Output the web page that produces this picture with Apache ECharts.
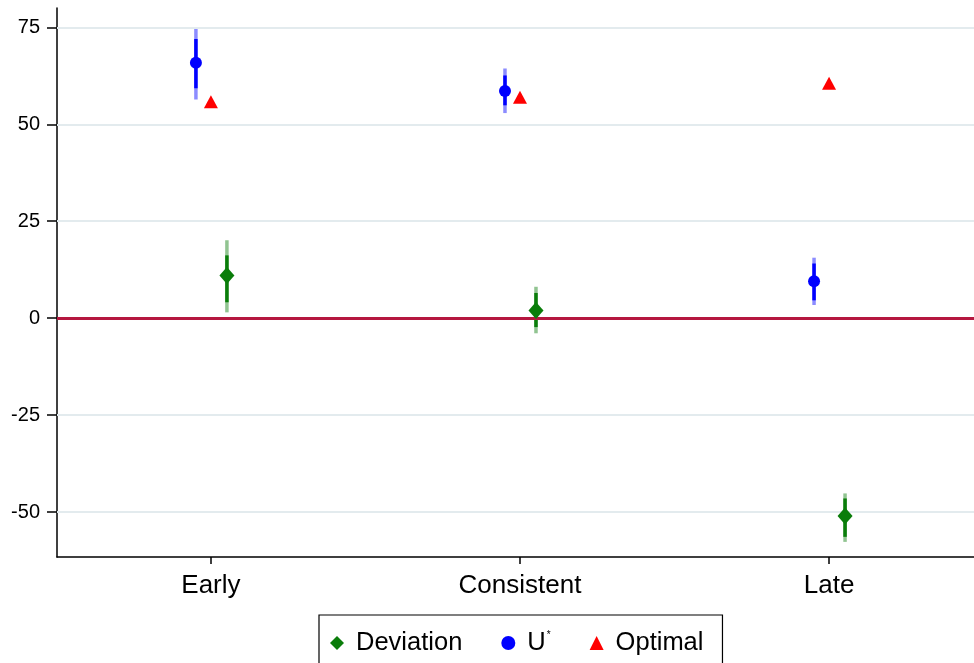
<!DOCTYPE html>
<html>
<head>
<meta charset="utf-8">
<script src="https://cdn.jsdelivr.net/npm/echarts@6/dist/echarts.min.js"></script>
<style>html,body{margin:0;padding:0;background:#fff}#c{width:974px;height:663px}</style>
</head>
<body>
<div id="c"></div>
<script>
const categories = ['Early', 'Consistent', 'Late'];
const yTicks = [-50, -25, 0, 25, 50, 75];

const uStar = [65.9, 58.6, 9.5];
const uStarLo95 = [56.4, 52.9, 3.4];
const uStarHi95 = [75.0, 64.4, 15.6];
const uStarLo90 = [59.3, 54.9, 4.6];
const uStarHi90 = [72.0, 62.6, 14.1];

const optimal = [55.8, 57.0, 60.6];

const deviation = [11.0, 2.0, -51.0];
const devLo95 = [1.5, -3.9, -57.7];
const devHi95 = [20.1, 8.1, -45.2];
const devLo90 = [4.1, -2.3, -56.4];
const devHi90 = [16.2, 6.5, -46.5];

const U_OFF = -15, D_OFF = 16;
const FONT = 'Liberation Sans, Arial, sans-serif';
const catIdx = categories.map((c, i) => i);

function ciSeries(name, lo95, hi95, lo90, hi90, off, color) {
  return {
    type: 'custom', name: name + '_ci', z: 3, silent: true,
    data: catIdx.map(i => [i, lo95[i], hi95[i], lo90[i], hi90[i]]),
    renderItem: function (params, api) {
      const x = api.value(0);
      const a = api.coord([x, api.value(1)]);
      const b = api.coord([x, api.value(2)]);
      const c = api.coord([x, api.value(3)]);
      const d = api.coord([x, api.value(4)]);
      const px = a[0] + off;
      return {
        type: 'group', children: [
          { type: 'line', shape: { x1: px, y1: a[1], x2: px, y2: b[1] },
            style: { stroke: color, lineWidth: 3.5, opacity: 0.45 } },
          { type: 'line', shape: { x1: px, y1: c[1], x2: px, y2: d[1] },
            style: { stroke: color, lineWidth: 3.5 } }
        ]
      };
    }
  };
}

const chart = echarts.init(document.getElementById('c'));
chart.setOption({
  animation: false,
  backgroundColor: '#fff',
  grid: { left: 57, top: 8, right: 0, bottom: 106, containLabel: false },
  xAxis: {
    type: 'value', min: -0.498, max: 2.469,
    axisLine: { show: true, onZero: false, lineStyle: { color: '#000', width: 1.5 } },
    axisTick: { show: true, length: 7, customValues: catIdx, lineStyle: { color: '#000', width: 1.5 } },
    axisLabel: { fontSize: 26, color: '#000', fontFamily: FONT, margin: 16, customValues: catIdx,
      formatter: v => categories[Math.round(v)] },
    splitLine: { show: false }
  },
  yAxis: {
    type: 'value', min: -61.6, max: 80,
    axisLine: { show: true, onZero: false, lineStyle: { color: '#000', width: 1.5 } },
    axisTick: { show: true, length: 10, inside: false, customValues: yTicks, lineStyle: { color: '#000', width: 1.5 } },
    axisLabel: { fontSize: 20, color: '#000', fontFamily: FONT, margin: 17, customValues: yTicks },
    splitLine: { show: false }
  },
  legend: {
    data: ['Deviation', 'U*', 'Optimal'],
    left: 319, top: 615,
    borderColor: '#000', borderWidth: 1.2,
    padding: [15, 19, 10, 11],
    itemGap: 39, itemWidth: 14, itemHeight: 14,
    textStyle: {
      fontSize: 25.5, color: '#000', fontFamily: FONT,
      rich: {
        n: { fontSize: 25.5, fontFamily: FONT, color: '#000', padding: [0, 0, 0, 7] },
        m: { fontSize: 25.5, fontFamily: FONT, color: '#000', padding: [0, 0, 0, 7] },
        s: { fontSize: 10, fontFamily: FONT, color: '#000', verticalAlign: 'top', padding: [0, 0, 16, 1] }
      }
    },
    formatter: function (name) {
      return name === 'U*' ? '{m|U}{s|*}' : '{n|' + name + '}';
    }
  },
  series: [
    {
      type: 'line', name: 'grid', data: [], z: 1, silent: true,
      markLine: {
        silent: true, symbol: 'none', label: { show: false },
        data: yTicks.map(v => ({
          yAxis: v,
          lineStyle: v === 0 ? { color: '#b5173f', width: 3, type: 'solid' } : { color: '#e3ebee', width: 2, type: 'solid' }
        }))
      }
    },
    ciSeries('U*', uStarLo95, uStarHi95, uStarLo90, uStarHi90, U_OFF, '#0000ff'),
    ciSeries('Deviation', devLo95, devHi95, devLo90, devHi90, D_OFF, '#0a7d0a'),
    {
      type: 'scatter', name: 'Deviation', data: catIdx.map(i => [i, deviation[i]]), z: 5,
      symbol: 'diamond', symbolSize: [15, 17], symbolOffset: [D_OFF, 0],
      itemStyle: { color: '#0a7d0a', opacity: 1 }
    },
    {
      type: 'scatter', name: 'U*', data: catIdx.map(i => [i, uStar[i]]), z: 5,
      symbol: 'circle', symbolSize: 12, symbolOffset: [U_OFF, 0],
      itemStyle: { color: '#0000ff', opacity: 1 }
    },
    {
      type: 'scatter', name: 'Optimal', data: catIdx.map(i => [i, optimal[i]]), z: 5,
      symbol: 'triangle', symbolSize: [14, 13],
      itemStyle: { color: '#ff0000', opacity: 1 }
    }
  ]
});
</script>
</body>
</html>
